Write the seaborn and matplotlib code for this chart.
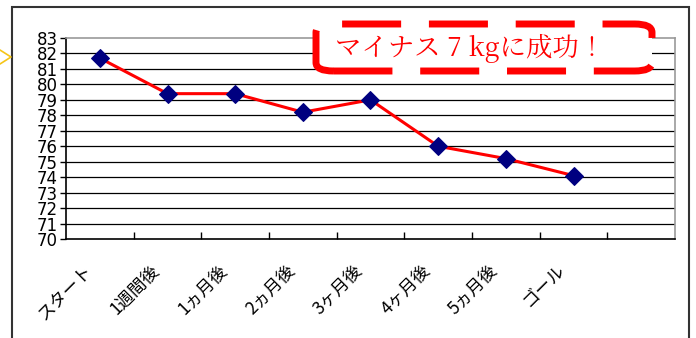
import matplotlib
matplotlib.use("Agg")
import matplotlib.pyplot as plt
import matplotlib.transforms as mtransforms
import seaborn as sns
import pandas as pd
from matplotlib.patches import FancyBboxPatch, Rectangle
from matplotlib.lines import Line2D

categories = ["スタート", "1週間後", "1ヵ月後", "2ヵ月後", "3ヶ月後", "4ヶ月後", "5ヵ月後", "ゴール"]
weights = [81.7, 79.4, 79.4, 78.2, 79.0, 76.0, 75.2, 74.1]
y_ticks = list(range(70, 84))
annotation = "マイナス 7 kgに成功！"

sns.set_theme(style="white")
plt.rcParams['font.family'] = ['Noto Sans CJK JP', 'DejaVu Sans']

df = pd.DataFrame({"pos": range(len(categories)), "weight": weights})

fig = plt.figure(figsize=(6.96, 3.38), dpi=100)
ax = fig.add_axes([66/696, 1 - 239/338, (675-66)/696, (239-38)/338])

# outer frame
fig.patches.append(Rectangle((12/696, -0.05), (689-12)/696, 1.05 - 7/338,
                             transform=fig.transFigure, fill=False,
                             edgecolor="#333333", linewidth=1.5))
# yellow chevron at left edge
fig.lines.append(Line2D([0/696, 11/696, 0/696], [1-50/338, 1-57/338, 1-64/338],
                        transform=fig.transFigure, color="#f5c518", linewidth=1.2))

for y in y_ticks[1:-1]:
    ax.axhline(y, color="black", linewidth=0.9, zorder=1)

sns.lineplot(data=df, x="pos", y="weight", ax=ax, color="red", linewidth=2.2,
             marker="D", markersize=9, markerfacecolor="#000080",
             markeredgecolor="#000080", zorder=3)

ax.set_xlim(-0.5, 8.5)
ax.set_ylim(70, 83)
ax.set_yticks(y_ticks)
ax.set_yticklabels([str(v) for v in y_ticks], family=['Liberation Sans Narrow', 'DejaVu Sans'],
                   fontsize=12, color="black")
ax.tick_params(axis="y", direction="out", length=4, width=1, color="black", pad=2, left=True)

ax.set_xticks([i + 0.5 for i in range(8)])
ax.set_xticklabels([])
ax.tick_params(axis="x", which="major", direction="in", length=5, width=1, color="black", bottom=True)
ax.set_xticks(list(range(len(categories))), minor=True)
ax.set_xticklabels(categories, minor=True, rotation=45, ha="right",
                   rotation_mode="anchor", fontsize=12.5, color="black")
ax.tick_params(axis="x", which="minor", length=0, pad=16)
shift = mtransforms.ScaledTranslation(-17/100, 0, fig.dpi_scale_trans)
for lbl in ax.get_xticklabels(minor=True):
    lbl.set_transform(lbl.get_transform() + shift)

ax.set_xlabel("")
ax.set_ylabel("")
for side in ["left", "bottom"]:
    ax.spines[side].set_color("black")
    ax.spines[side].set_linewidth(1.2)
for side in ["top", "right"]:
    ax.spines[side].set_color("#999999")
    ax.spines[side].set_linewidth(1.2)

# annotation box
box = FancyBboxPatch((316/696, 1 - 71/338), (652-316)/696, (71-24)/338,
                     boxstyle="round,pad=0,rounding_size=0.025",
                     transform=fig.transFigure, facecolor="white",
                     edgecolor="red", linewidth=5, linestyle=(0, (8.5, 4)), zorder=10)
fig.patches.append(box)
fig.text(470/696, 1 - 48/338, annotation, ha="center", va="center", color="red",
         fontsize=19, family=['Noto Serif CJK JP', 'Noto Sans CJK JP', 'DejaVu Serif'], zorder=11)

fig.savefig("out.png", dpi=100)
